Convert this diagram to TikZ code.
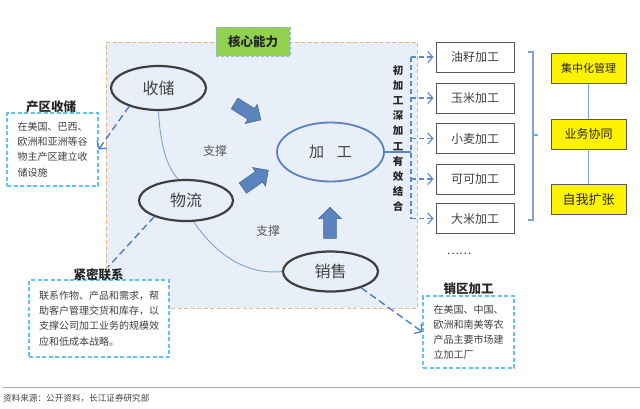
\documentclass[tikz,border=0pt]{standalone}
\usepackage{fontspec}
\setmainfont{Noto Sans CJK SC}
\usetikzlibrary{shapes.geometric,shapes.arrows,arrows.meta}
\definecolor{regionfill}{HTML}{E9EFF8}
\definecolor{regionborder}{HTML}{F4B183}
\definecolor{ellgray}{HTML}{3F3F3F}
\definecolor{steel}{HTML}{5B83BD}
\definecolor{dashblue}{HTML}{4A7EC6}
\definecolor{cyanline}{HTML}{5FC5EE}
\definecolor{txt}{HTML}{404040}
\definecolor{kgreen}{HTML}{92D050}
\definecolor{lineblue}{HTML}{7CA3D6}
\definecolor{boxgray}{HTML}{595959}
\tikzset{
  ell/.style={ellipse, draw=ellgray, line width=2.2pt, fill=regionfill, text=txt,
    font=\fontsize{16pt}{16pt}\selectfont, inner sep=0pt},
  procbox/.style={draw=boxgray, line width=0.9pt, minimum width=78pt, minimum height=30pt,
    fill=white, text=txt, inner sep=0pt, font=\fontsize{12pt}{12pt}\selectfont},
  ybox/.style={draw=boxgray, line width=0.9pt, fill=yellow, minimum width=75pt, minimum height=30pt,
    inner sep=0pt, text=black!85},
  cbox/.style={draw=cyanline, dash pattern=on 4pt off 2.5pt, line width=1.1pt, align=left,
    text=txt, font=\fontsize{10pt}{15.2pt}\selectfont, inner sep=0pt, fill=white},
  blabel/.style={font=\fontsize{12.5pt}{12.5pt}\selectfont\bfseries, text=black!85, inner sep=1pt},
  blockarrow/.style={single arrow, fill=steel, draw=steel!80!black, line width=0.6pt,
    minimum height=31pt, inner sep=6pt, single arrow head extend=5pt},
  darrow/.style={draw=dashblue, line width=1.4pt, dash pattern=on 7pt off 4pt,
    -{Straight Barb[length=5pt,width=12pt,line width=1.3pt]}},
  dline/.style={draw=dashblue, line width=1.4pt, dash pattern=on 7pt off 4pt},
  branch/.style={draw=dashblue!90, line width=1.2pt, dash pattern=on 5pt off 3pt},
  branchar/.style={branch, -{Straight Barb[length=5pt,width=11pt,line width=1.2pt]}, shorten >=2pt},
  support/.style={text=boxgray, font=\fontsize{12pt}{12pt}\selectfont},
}
\begin{document}
\begin{tikzpicture}[x=1pt,y=-1pt]
\useasboundingbox (0,0) rectangle (640,408);
% core region
\node[draw=regionborder, dash pattern=on 4pt off 2.5pt, line width=1pt, fill=regionfill,
  minimum width=311pt, minimum height=266pt, inner sep=0pt] (region) at (261.5,175) {};
\node[draw=lineblue!80, dash pattern=on 3pt off 2pt, line width=1pt, fill=kgreen,
  minimum width=74pt, minimum height=29pt, inner sep=0pt,
  font=\fontsize{12.5pt}{12.5pt}\selectfont\bfseries, text=black!85] (core) at (253,41.5) {核心能力};
% ellipses
\node[ell, minimum width=95pt, minimum height=44pt] (sc) at (158.5,88) {收储};
\node[ell, minimum width=94pt, minimum height=41pt] (wl) at (186,200.5) {物流};
\node[ell, minimum width=95pt, minimum height=40pt] (ss) at (330.5,271.5) {销售};
\node[ell, draw=steel, line width=1.8pt, minimum width=107pt, minimum height=59pt,
  font=\fontsize{15pt}{15pt}\selectfont] (jg) at (330.5,152) {加\hspace{13pt}工};
% thin curves
\draw[lineblue, line width=0.9pt] (sc.south) .. controls (160,140) and (165,165) .. (wl.110);
\draw[lineblue, line width=0.9pt] (wl.-70) .. controls (218,258) and (250,275) .. (ss.west);
\node[support] (s1) at (215,151) {支撑};
\node[support] (s2) at (268,231) {支撑};
% block arrows
\node[blockarrow, rotate=-32] (a1) at (245,110) {};
\node[blockarrow, rotate=35] (a2) at (253,181) {};
\node[blockarrow, rotate=90] (a3) at (330,226) {};
% processing boxes
\node[procbox] (p1) at (475,57) {油籽加工};
\node[procbox] (p2) at (475,98) {玉米加工};
\node[procbox] (p3) at (475,138.5) {小麦加工};
\node[procbox] (p4) at (475,179) {可可加工};
\node[procbox] (p5) at (475,218.5) {大米加工};
\node[text=txt, font=\fontsize{11.5pt}{11.5pt}\selectfont] (dots) at (459,254) {……};
% bracket
\coordinate (bx) at (411,138);
\draw[steel, line width=1.6pt] (jg.east) -- (jg.east -| bx);
\draw[branch] (bx |- p1.west) -- (bx |- p5.west);
\foreach \b in {p1,p2,p3,p4,p5} {\draw[branchar] (bx |- \b.west) -- (\b.west);}
\node[align=center, text=black!85, font=\fontsize{10.5pt}{15.2pt}\selectfont\bfseries, inner sep=0pt]
  (vt) at (398,138.5) {初\\加\\工\\深\\加\\工\\有\\效\\结\\合};
% right brace
\coordinate (brt) at (533,52);
\coordinate (brb) at (533,220);
\coordinate (brm) at (533,135);
\draw[lineblue, line width=1.2pt] (brt) ++(-5,0) -- (brt) -- (brb) -- ++(-5,0);
\draw[lineblue, line width=1.2pt] (brm) -- ++(5,0);
% yellow boxes
\node[ybox, font=\fontsize{11pt}{11pt}\selectfont] (y1) at (588.5,68.5) {集中化管理};
\node[ybox, font=\fontsize{12pt}{12pt}\selectfont] (y2) at (588.5,134) {业务协同};
\node[ybox, font=\fontsize{13pt}{13pt}\selectfont] (y3) at (588.5,199.5) {自我扩张};
\draw[lineblue, line width=1pt] (y1.south) -- (y2.north);
\draw[lineblue, line width=1pt] (y2.south) -- (y3.north);
% side boxes
\node[cbox, minimum width=91pt, minimum height=73pt] (pb) at (52.5,149.5)
  {在美国、巴西、\\欧洲和亚洲等谷\\物主产区建立收\\储设施};
\node[blabel] (pl) at (51,107) {产区收储};
\node[cbox, minimum width=140pt, minimum height=77pt] (jb) at (99,318.5)
  {联系作物、产品和需求，帮\\助客户管理交货和库存，以\\支撑公司加工业务的规模效\\应和低成本战略。};
\node[blabel] (jl) at (98.5,275) {紧密联系};
\node[cbox, minimum width=91pt, minimum height=72pt] (xb) at (468.5,332)
  {在美国、中国、\\欧洲和南美等农\\产品主要市场建\\立加工厂};
\node[blabel] (xl) at (468.5,288.5) {销区加工};
\coordinate (jlend) at (108,267);
\draw[darrow] (sc.212) -- (pb.east);
\draw[dline] (wl.207) -- (jlend);
\draw[darrow] (ss.332) -- (xb.west);
% footer
\draw[black!35, line width=1.2pt] (3,387.5) coordinate (f1) -- (640,387.5) coordinate (f2);
\node[anchor=west, text=black!75, font=\fontsize{8.6pt}{8.6pt}\selectfont, inner sep=0pt] (src) at (3,398)
  {资料来源：公开资料，长江证券研究部};
\end{tikzpicture}
\end{document}
